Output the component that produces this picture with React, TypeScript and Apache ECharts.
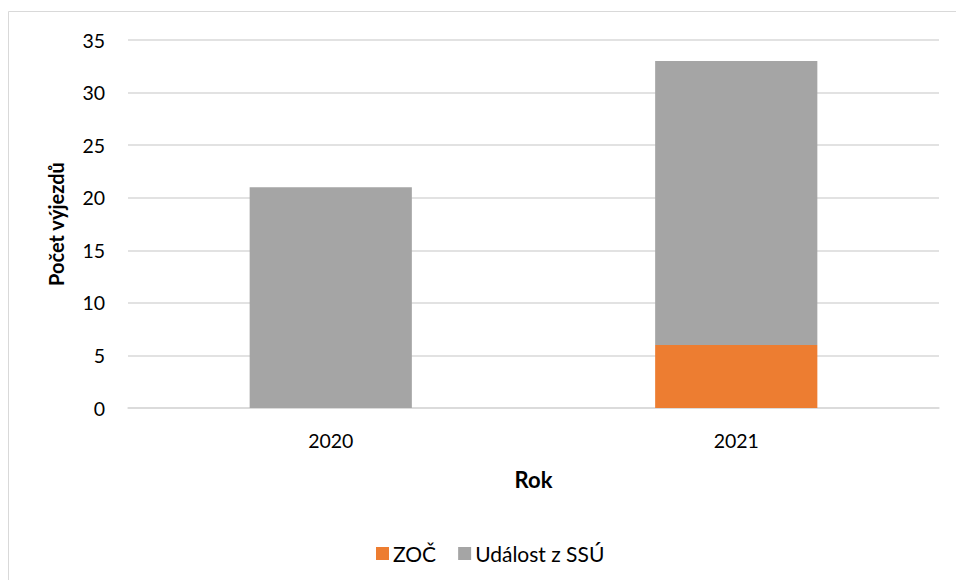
import React, { useEffect, useRef } from "react";
import * as echarts from "echarts";

const years = ["2020", "2021"];
const zocValues = [0, 6];
const ssuValues = [21, 27];
const seriesNames = ["ZOČ", "Událost z SSÚ"];
const yAxisTitle = "Počet výjezdů";
const xAxisTitle = "Rok";

const FONT = "Lato, 'Open Sans', sans-serif";

export default function App() {
  const ref = useRef<HTMLDivElement>(null);
  useEffect(() => {
    if (!ref.current) return;
    const chart = echarts.init(ref.current, null, { renderer: "svg" });
    chart.setOption({
      animation: false,
      backgroundColor: "#ffffff",
      graphic: [
        {
          type: "rect",
          shape: { x: 8.5, y: 11.5, width: 1000, height: 700 },
          style: { fill: "none", stroke: "#D9D9D9", lineWidth: 1 },
          silent: true,
        },
      ],
      grid: { left: 128, right: 17, top: 40, bottom: 172 },
      legend: {
        data: seriesNames,
        left: 371,
        top: 538,
        itemWidth: 13,
        itemHeight: 13,
        itemGap: 22,
        icon: "rect",
        textStyle: { fontFamily: FONT, fontSize: 21, color: "#000", padding: [0, 0, 0, -1] },
      },
      xAxis: {
        type: "category",
        data: years,
        name: xAxisTitle,
        nameLocation: "middle",
        nameGap: 60,
        nameTextStyle: { fontFamily: FONT, fontSize: 22, fontWeight: "bold", color: "#000" },
        axisLine: { lineStyle: { color: "#D9D9D9", width: 1.5 } },
        axisTick: { show: false },
        axisLabel: { fontFamily: FONT, fontSize: 19.5, color: "#000", margin: 22 },
      },
      yAxis: {
        type: "value",
        min: 0,
        max: 35,
        interval: 5,
        name: yAxisTitle,
        nameLocation: "middle",
        nameGap: 62,
        nameTextStyle: { fontFamily: FONT, fontSize: 20, fontWeight: "bold", color: "#000" },
        axisLine: { show: false },
        axisTick: { show: false },
        axisLabel: { fontFamily: FONT, fontSize: 19.5, color: "#000", margin: 23 },
        splitLine: { lineStyle: { color: "#D9D9D9", width: 1.5 } },
      },
      series: [
        {
          name: seriesNames[0],
          type: "bar",
          stack: "total",
          data: zocValues,
          barWidth: "40%",
          itemStyle: { color: "#ED7D31" },
        },
        {
          name: seriesNames[1],
          type: "bar",
          stack: "total",
          data: ssuValues,
          barWidth: "40%",
          itemStyle: { color: "#A5A5A5" },
        },
      ],
    });
    return () => chart.dispose();
  }, []);
  return (
    <div
      ref={ref}
      style={{ position: "fixed", left: 0, top: 0, width: 956, height: 580 }}
    />
  );
}
